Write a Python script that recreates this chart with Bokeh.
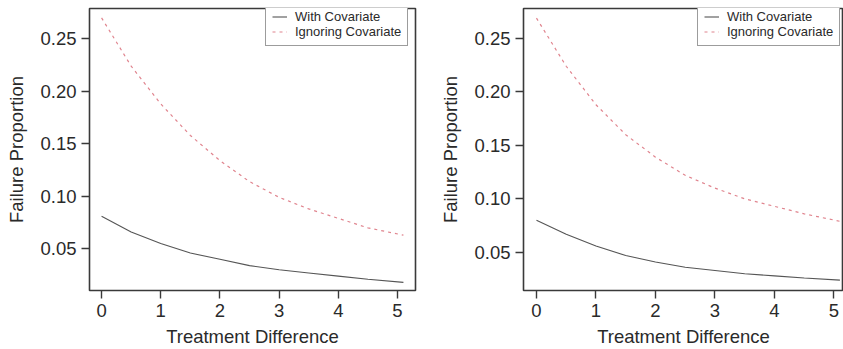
from bokeh.plotting import figure
from bokeh.layouts import row
from bokeh.models import Range1d, FixedTicker, Legend, LegendItem
from bokeh.embed import file_html
from bokeh.resources import INLINE

# ---- data ----
treat = [0, 0.5, 1, 1.5, 2, 2.5, 3, 3.5, 4, 4.5, 5.1]
left_with = [0.081, 0.066, 0.055, 0.046, 0.040, 0.034, 0.030, 0.027, 0.024, 0.021, 0.018]
left_ignore = [0.270, 0.224, 0.188, 0.158, 0.134, 0.114, 0.099, 0.088, 0.079, 0.070, 0.063]
right_with = [0.080, 0.067, 0.056, 0.047, 0.041, 0.036, 0.033, 0.030, 0.028, 0.026, 0.024]
right_ignore = [0.269, 0.224, 0.188, 0.160, 0.139, 0.122, 0.110, 0.100, 0.093, 0.086, 0.079]
x_ticks = [0, 1, 2, 3, 4, 5]
y_ticks = [0.05, 0.10, 0.15, 0.20, 0.25]
y_tick_labels = {0.05: "0.05", 0.10: "0.10", 0.15: "0.15", 0.20: "0.20", 0.25: "0.25"}
x_label = "Treatment Difference"
y_label = "Failure Proportion"
series_names = ["With Covariate", "Ignoring Covariate"]

FONT = "Liberation Sans"
TXT = "#2a2a2a"
SOLID = "#555555"
DASH = "#e0848e"


def panel(width, border_left, border_right, xr, yr, ywith, yign, legend_x):
    p = figure(width=width, height=349, output_backend="svg", toolbar_location=None,
               x_range=Range1d(*xr), y_range=Range1d(*yr),
               min_border_left=border_left, min_border_right=border_right,
               min_border_top=8, min_border_bottom=59)
    p.xgrid.visible = False
    p.ygrid.visible = False
    p.outline_line_color = "#3a3a3a"
    p.outline_line_width = 1.6
    p.background_fill_color = "white"
    p.border_fill_color = "white"

    r1 = p.line(treat, ywith, line_color=SOLID, line_width=1.1)
    r2 = p.line(treat, yign, line_color=DASH, line_width=1.2, line_dash="3 4")

    for ax in (p.xaxis[0], p.yaxis[0]):
        ax.axis_line_color = None
        ax.major_tick_line_color = "#3a3a3a"
        ax.major_tick_line_width = 1.4
        ax.major_tick_in = 0
        ax.major_tick_out = 8
        ax.minor_tick_line_color = None
        ax.major_label_text_font = FONT
        ax.major_label_text_font_size = "18.5px"
        ax.major_label_text_color = TXT
        ax.axis_label_text_font = FONT
        ax.axis_label_text_font_size = "18.5px"
        ax.axis_label_text_font_style = "normal"
        ax.axis_label_text_color = TXT

    p.xaxis.ticker = FixedTicker(ticks=x_ticks)
    p.yaxis.ticker = FixedTicker(ticks=y_ticks)
    p.yaxis.major_label_overrides = y_tick_labels
    p.xaxis.axis_label = x_label
    p.yaxis.axis_label = y_label
    p.xaxis.major_label_standoff = 5
    p.xaxis.axis_label_standoff = 6
    p.yaxis.major_label_standoff = 5
    p.yaxis.axis_label_standoff = 10

    leg = Legend(items=[LegendItem(label=series_names[0], renderers=[r1]),
                        LegendItem(label=series_names[1], renderers=[r2])],
                 location=(legend_x, 244))
    leg.label_text_font = FONT
    leg.label_text_font_size = "13px"
    leg.label_text_color = TXT
    leg.label_height = 13
    leg.glyph_height = 13
    leg.glyph_width = 15
    leg.label_standoff = 8
    leg.spacing = 0
    leg.padding = 6
    leg.margin = 0
    leg.border_line_color = "#3a3a3a"
    leg.border_line_width = 1.4
    leg.background_fill_alpha = 1
    p.add_layout(leg, "center")
    return p


left = panel(430, 89, 15, (-0.204, 5.304), (0.0103, 0.2789), left_with, left_ignore, 176)
right = panel(413, 93, 0, (-0.218, 5.16), (0.0143, 0.278), right_with, right_ignore, 174)

layout = row(left, right, spacing=0)
open("out.html", "w").write(file_html(layout, INLINE))
